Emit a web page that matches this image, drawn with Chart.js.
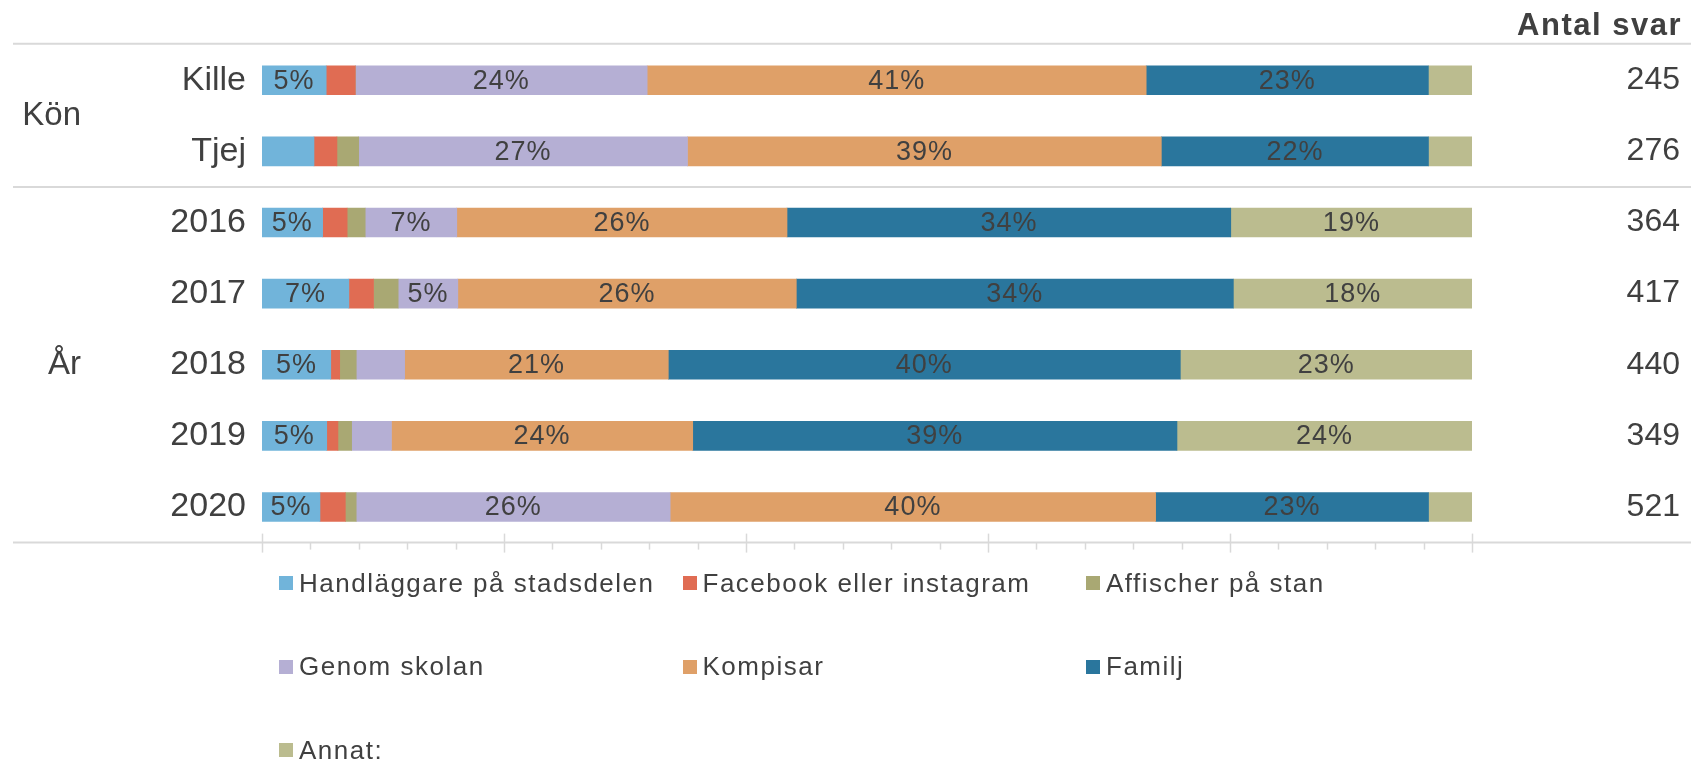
<!DOCTYPE html>
<html>
<head>
<meta charset="utf-8">
<script src="https://cdn.jsdelivr.net/npm/chart.js@4.4.1/dist/chart.umd.min.js"></script>
<style>
  html, body { margin: 0; padding: 0; background: #fff; }
  #wrap { position: relative; width: 1691px; height: 761px; overflow: hidden; }
  #grafico { position: absolute; left: 0; top: 0; }
  .leg { position: absolute; height: 30px; display: flex; align-items: center;
         font-family: "Liberation Sans", Arial, sans-serif; font-size: 26px;
         letter-spacing: 1.5px; color: #404040; white-space: nowrap; }
  .leg span.box { display: inline-block; width: 14px; height: 14px; margin-right: 6px; }
</style>
</head>
<body>
<div id="wrap">
  <canvas id="grafico" width="1691" height="761"></canvas>
</div>
<script>
// Kategorier (Kön + År)
var kategorier = ["Kille", "Tjej", "2016", "2017", "2018", "2019", "2020"];
var antalSvar = [245, 276, 364, 417, 440, 349, 521];

// Andel i procent per svarsalternativ (avläst)
var handlaggare = [5.3, 4.3, 4.7, 6.7, 5.4, 5.2, 4.8];
var facebook    = [2.4, 1.9, 1.9, 1.9, 0.7, 0.9, 2.1];
var affischer   = [0.0, 1.8, 1.4, 1.9, 1.3, 1.1, 0.9];
var skolan      = [24.1, 27.2, 7.1, 4.6, 3.8, 3.2, 26.0];
var kompisar    = [41.2, 39.2, 25.6, 26.1, 20.7, 24.2, 40.2];
var familj      = [23.3, 22.1, 34.4, 33.7, 40.2, 38.9, 22.6];
var annat       = [3.6, 3.6, 18.7, 18.4, 22.9, 23.7, 3.6];

var serieNamn = ["Handläggare på stadsdelen", "Facebook eller instagram", "Affischer på stan",
                 "Genom skolan", "Kompisar", "Familj", "Annat:"];
var serier = [handlaggare, facebook, affischer, skolan, kompisar, familj, annat];
var farger = ["#71B4DA", "#E06C53", "#A9A873", "#B5AFD4", "#DFA068", "#2A769D", "#BBBC8F"];

// 100% staplat som i Excel
var summor = [];
for (i = 0; i < kategorier.length; i++) {
  var s = 0;
  for (j = 0; j < serier.length; j++) { s += serier[j][i]; }
  summor.push(s);
}

var datasets = [];
for (j = 0; j < serier.length; j++) {
  datasets.push({
    label: serieNamn[j],
    backgroundColor: farger[j],
    data: serier[j].map(function (v, i) { return v / summor[i] * 100; }),
    raw: serier[j],
    barThickness: 29,
    borderWidth: 0
  });
}

var textFarg = "#404040";
var linjeFarg = "#d9d9d9";
var typsnitt = '"Liberation Sans", Arial, sans-serif';

var extraRitning = {
  id: "extraRitning",
  afterDraw: function (chart) {
    var ctx = chart.ctx;
    var ca = chart.chartArea;
    var x = chart.scales.x;
    var y = chart.scales.y;
    ctx.save();

    // horisontella linjer
    ctx.strokeStyle = linjeFarg;
    ctx.lineWidth = 2;
    var sepY = (y.getPixelForValue(1) + y.getPixelForValue(2)) / 2;
    [ca.top - 1, sepY, ca.bottom].forEach(function (ly) {
      ctx.beginPath();
      ctx.moveTo(13, ly);
      ctx.lineTo(chart.width, ly);
      ctx.stroke();
    });

    // axelmarkeringar
    ctx.lineWidth = 1.5;
    for (v = 0; v <= 100; v += 4) {
      var px = Math.round(x.getPixelForValue(v)) + 0.5;
      ctx.beginPath();
      if (v % 20 === 0) {
        ctx.moveTo(px, ca.bottom - 9);
        ctx.lineTo(px, ca.bottom + 10);
      } else {
        ctx.moveTo(px, ca.bottom);
        ctx.lineTo(px, ca.bottom + 7);
      }
      ctx.stroke();
    }

    // gruppetiketter
    ctx.fillStyle = textFarg;
    ctx.font = "33px " + typsnitt;
    ctx.textAlign = "right";
    ctx.textBaseline = "middle";
    ctx.fillText("Kön", 81, (y.getPixelForValue(0) + y.getPixelForValue(1)) / 2);
    ctx.fillText("År", 81, y.getPixelForValue(4));

    // antal svar
    ctx.font = "32px " + typsnitt;
    for (i = 0; i < antalSvar.length; i++) {
      ctx.fillText(antalSvar[i], 1680, y.getPixelForValue(i));
    }
    ctx.font = "bold 31px " + typsnitt;
    ctx.letterSpacing = "1.5px";
    ctx.fillText("Antal svar", 1682, 26);

    // dataetiketter
    ctx.font = "27px " + typsnitt;
    ctx.letterSpacing = "1px";
    ctx.textAlign = "center";
    chart.data.datasets.forEach(function (ds, di) {
      var meta = chart.getDatasetMeta(di);
      meta.data.forEach(function (bar, bi) {
        var r = Math.round(ds.raw[bi]);
        if (r < 5) return;
        ctx.fillText(r + "%", (bar.x + bar.base) / 2, bar.y + 1);
      });
    });
    ctx.restore();
  }
};

var grafico = document.getElementById("grafico").getContext("2d");

var chart = new Chart(grafico, {
  type: "bar",
  data: {
    labels: kategorier,
    datasets: datasets
  },
  options: {
    indexAxis: "y",
    responsive: false,
    animation: false,
    layout: {
      padding: { left: 0, top: 44.7, right: 219, bottom: 218.4 }
    },
    plugins: {
      legend: { display: false },
      tooltip: { enabled: false },
      title: { display: false }
    },
    scales: {
      x: {
        stacked: true,
        min: 0,
        max: 100,
        display: false
      },
      y: {
        stacked: true,
        afterFit: function (scale) { scale.width = 262; },
        grid: { display: false, drawTicks: false },
        border: { display: false },
        ticks: {
          padding: 16,
          color: textFarg,
          font: { family: typsnitt, size: 34 }
        }
      }
    }
  },
  plugins: [extraRitning]
});

// Förklaring i tre kolumner
var wrap = document.getElementById("wrap");
chart.data.datasets.forEach(function (ds, i) {
  var item = document.createElement("div");
  item.className = "leg";
  item.style.left = (279 + (i % 3) * 403.5) + "px";
  item.style.top = (568 + Math.floor(i / 3) * 83.5) + "px";
  var box = document.createElement("span");
  box.className = "box";
  box.style.background = ds.backgroundColor;
  item.appendChild(box);
  item.appendChild(document.createTextNode(ds.label));
  wrap.appendChild(item);
});
</script>
</body>
</html>
